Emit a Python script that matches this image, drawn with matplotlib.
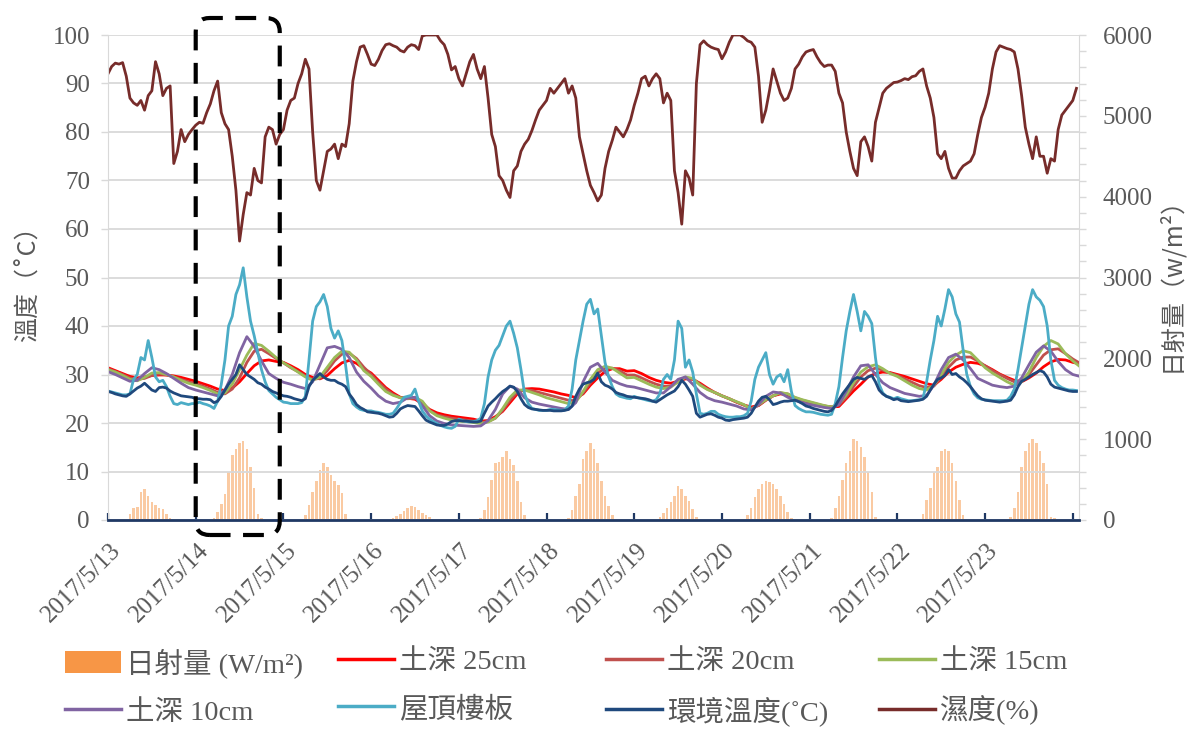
import numpy as np
import matplotlib
matplotlib.use('Agg')
import matplotlib.pyplot as plt
from matplotlib.patches import Patch, FancyBboxPatch
from matplotlib.lines import Line2D
from matplotlib.ticker import MultipleLocator
from matplotlib.transforms import IdentityTransform, ScaledTranslation

# x axis: one tick per day, data starts 2017/5/13 00:00
day_labels = ['2017/5/13', '2017/5/14', '2017/5/15', '2017/5/16', '2017/5/17', '2017/5/18',
              '2017/5/19', '2017/5/20', '2017/5/21', '2017/5/22', '2017/5/23']

# hourly series (one row per day)
roof = [
    26.6, 26.4, 26.2, 26.0, 25.8, 25.8, 26.0, 29.0, 30.0, 33.5, 33.0, 37.0, 33.5, 29.5, 28.5, 28.8, 27.5, 25.5, 24.0, 23.8, 24.2, 24.0, 23.8, 24.0,
    24.0, 24.3, 24.0, 23.8, 23.5, 23.0, 24.5, 28.0, 33.0, 40.0, 42.0, 46.5, 48.5, 52.0, 46.0, 41.0, 38.0, 34.5, 31.0, 28.5, 26.7, 26.0, 25.3, 24.8,
    24.3, 24.2, 24.0, 24.0, 24.0, 24.2, 25.5, 33.0, 41.0, 44.0, 45.0, 46.5, 44.0, 39.5, 37.5, 39.0, 37.0, 32.0, 26.0, 24.0, 23.3, 22.8, 22.6, 22.5,
    22.5, 22.3, 22.2, 22.0, 21.8, 21.8, 22.0, 23.0, 24.2, 25.3, 25.5, 25.7, 27.0, 24.5, 22.5, 21.5, 20.8, 20.3, 19.9, 19.5, 19.2, 19.0, 18.9, 19.3,
    20.8, 20.5, 20.3, 20.2, 20.3, 20.5, 21.0, 24.0, 29.5, 33.0, 35.0, 36.0, 38.0, 40.0, 41.0, 38.5, 35.5, 31.0, 26.0, 24.0, 23.0, 22.8, 22.6, 22.6,
    22.6, 22.8, 22.8, 22.7, 22.6, 22.7, 23.5, 27.0, 33.0, 37.0, 41.0, 44.5, 45.5, 42.5, 43.5, 38.0, 32.5, 29.5, 27.5, 26.0, 25.5, 25.3, 25.1, 25.0,
    25.5, 25.2, 25.0, 24.8, 24.6, 24.5, 24.8, 26.0, 29.0, 30.0, 29.0, 33.0, 41.0, 39.5, 31.5, 33.0, 30.5, 26.0, 22.0, 21.8, 22.0, 22.4, 22.4, 21.8,
    21.5, 21.3, 21.2, 21.2, 21.3, 21.3, 21.5, 22.0, 24.5, 29.0, 31.5, 33.0, 34.5, 30.0, 28.0, 29.5, 30.0, 28.5, 31.0, 26.5, 23.6, 23.0, 22.6, 22.3,
    22.3, 22.2, 22.0, 21.8, 21.7, 21.6, 21.8, 24.0, 27.5, 33.5, 39.0, 43.0, 46.5, 43.0, 39.0, 43.0, 42.0, 40.5, 33.5, 28.0, 26.2, 25.5, 25.3, 25.0,
    25.3, 25.0, 24.8, 24.6, 24.6, 24.7, 24.8, 25.0, 28.5, 33.0, 37.0, 42.0, 40.0, 43.5, 47.5, 46.0, 42.5, 40.8, 35.0, 30.0, 27.5, 26.0, 25.2, 24.9,
    24.8, 24.7, 24.6, 24.6, 24.6, 24.6, 24.7, 25.5, 27.0, 31.0, 35.5, 40.0, 44.5, 47.5, 46.0, 45.3, 44.0, 40.0, 33.0, 28.8, 27.8, 27.3, 27.0, 26.8,
    26.8, 26.7,
]

ambient = [
    26.5, 26.3, 26.0, 25.8, 25.6, 25.5, 26.0, 26.6, 27.2, 27.6, 28.2, 27.5, 26.8, 26.5, 27.3, 27.4, 27.2, 26.6, 26.2, 25.9, 25.6, 25.5, 25.4, 25.3,
    25.0, 25.0, 24.9, 24.9, 24.8, 24.2, 24.5, 25.5, 26.8, 28.0, 29.0, 30.0, 32.0, 31.0, 30.0, 29.5, 29.0, 28.3, 28.0, 27.4, 27.0, 26.5, 26.2, 25.9,
    25.6, 25.5, 25.3, 25.0, 24.8, 24.6, 25.0, 27.5, 28.8, 29.5, 30.2, 29.5, 29.0, 28.8, 28.8, 28.3, 28.0, 27.5, 26.0, 25.0, 23.8, 23.2, 22.8, 22.3,
    22.2, 22.1, 22.0, 21.8, 21.5, 21.2, 21.3, 22.0, 22.9, 23.3, 23.6, 23.5, 23.4, 22.5, 21.5, 20.6, 20.2, 19.9, 19.6, 19.5, 19.5, 19.8, 20.3, 20.5,
    20.5, 20.4, 20.4, 20.3, 20.2, 20.2, 20.4, 22.0, 23.5, 24.3, 25.0, 25.8, 26.5, 27.0, 27.6, 27.4, 26.5, 25.0, 23.8, 23.2, 22.9, 22.8, 22.7, 22.6,
    22.6, 22.6, 22.5, 22.5, 22.5, 22.6, 22.8, 23.5, 25.5, 27.0, 28.0, 28.3, 28.5, 29.0, 30.3, 28.5, 27.8, 27.5, 27.0, 26.3, 26.0, 25.8, 25.5, 25.4,
    25.3, 25.2, 25.1, 25.0, 24.8, 24.5, 24.3, 24.8, 25.3, 25.8, 26.2, 26.6, 27.5, 28.8, 28.0, 26.8, 25.5, 22.0, 21.2, 21.5, 21.8, 21.9, 21.6, 21.2,
    21.0, 20.6, 20.5, 20.7, 20.8, 20.9, 21.0, 21.2, 22.0, 23.3, 24.5, 25.3, 25.5, 24.8, 23.8, 24.0, 24.3, 24.5, 24.5, 24.6, 24.7, 24.4, 24.0, 23.5,
    23.3, 23.0, 22.8, 22.6, 22.4, 22.3, 22.6, 23.5, 24.8, 26.0, 27.0, 28.0, 29.0, 29.4, 29.2, 29.0, 29.5, 29.8, 28.5, 26.8, 26.0, 25.5, 25.2, 24.8,
    25.0, 24.6, 24.5, 24.4, 24.5, 24.6, 24.7, 24.9, 25.5, 26.8, 28.0, 29.0, 29.3, 29.8, 31.0, 30.0, 30.2, 29.5, 29.0, 28.3, 27.5, 26.5, 25.6, 25.0,
    24.7, 24.6, 24.5, 24.4, 24.3, 24.4, 24.5, 24.7, 25.8, 27.5, 28.6, 29.0, 29.5, 30.0, 30.4, 30.8, 30.5, 29.5, 28.0, 27.4, 27.2, 27.0, 26.8, 26.6,
    26.5, 26.5,
]

humidity = [
    92.0, 93.5, 94.2, 94.0, 94.3, 91.5, 87.0, 86.0, 85.5, 86.5, 84.5, 87.5, 88.5, 94.5, 92.0, 87.5, 89.0, 89.5, 73.5, 76.0, 80.5, 78.0, 79.5, 80.5,
    81.4, 82.0, 81.8, 84.0, 85.8, 88.5, 90.5, 84.0, 81.7, 80.5, 75.0, 68.0, 57.5, 63.0, 67.5, 67.0, 72.5, 70.0, 69.5, 79.0, 81.0, 80.5, 77.5, 79.5,
    80.5, 84.5, 86.5, 87.0, 90.0, 92.0, 95.0, 93.0, 80.0, 70.0, 68.0, 72.0, 76.0, 76.5, 77.5, 74.5, 77.5, 77.0, 81.7, 90.5, 94.5, 97.5, 97.8, 96.0,
    94.0, 93.7, 95.0, 96.8, 98.0, 98.2, 97.8, 97.5, 96.8, 96.5, 97.5, 98.0, 97.8, 97.0, 99.8, 100.0, 100.0, 100.0, 100.0, 98.8, 98.0, 96.0, 92.8, 93.5,
    91.0, 89.5, 92.0, 94.5, 96.0, 93.0, 91.0, 93.5, 87.0, 79.5, 77.0, 71.0, 70.0, 68.0, 66.5, 72.0, 73.0, 76.0, 77.5, 78.5, 80.3, 82.5, 84.5, 85.5,
    86.5, 89.0, 88.0, 89.0, 90.0, 91.0, 88.0, 89.5, 87.0, 79.0, 75.5, 72.0, 69.0, 67.5, 65.8, 67.0, 72.5, 76.0, 78.3, 81.0, 80.0, 79.0, 80.5, 82.5,
    85.5, 88.0, 91.0, 91.5, 89.5, 91.0, 92.0, 91.0, 86.0, 88.0, 86.5, 72.0, 67.5, 61.0, 72.0, 70.5, 67.0, 90.0, 98.0, 98.8, 98.0, 97.5, 97.2, 97.0,
    95.1, 96.5, 98.5, 100.0, 100.0, 100.0, 99.5, 98.8, 98.5, 97.5, 91.5, 82.0, 84.5, 88.5, 93.0, 90.5, 88.0, 86.5, 87.0, 89.0, 93.0, 94.0, 95.5, 96.5,
    96.8, 97.0, 95.5, 94.3, 93.5, 93.8, 93.8, 92.5, 88.0, 86.0, 80.0, 76.0, 72.5, 71.0, 78.0, 79.0, 77.0, 74.0, 82.0, 85.0, 88.0, 89.0, 89.6, 90.2,
    90.3, 90.6, 91.0, 90.8, 91.4, 91.6, 92.5, 93.0, 89.5, 87.0, 83.0, 75.5, 74.5, 76.0, 72.5, 70.5, 70.5, 72.0, 73.0, 73.5, 74.0, 75.5, 79.5, 83.0,
    85.1, 88.0, 93.0, 96.5, 97.8, 97.5, 97.2, 97.0, 96.5, 93.0, 87.5, 81.0, 77.5, 74.5, 79.0, 75.0, 75.0, 71.5, 74.5, 74.0, 80.5, 83.5, 84.5, 85.5,
    86.5, 89.0,
]

# solar radiation, W/m2, hourly
solar = [
    0, 0, 0, 0, 0, 0, 80, 150, 160, 350, 380, 300, 220, 180, 150, 140, 80, 20, 0, 0, 0, 0, 0, 0,
    0, 0, 0, 0, 0, 20, 100, 200, 320, 600, 800, 880, 950, 980, 880, 650, 400, 80, 20, 0, 0, 0, 0, 0,
    0, 0, 0, 0, 0, 0, 60, 180, 350, 480, 620, 700, 650, 560, 480, 430, 330, 80, 10, 0, 0, 0, 0, 0,
    0, 0, 0, 0, 0, 0, 20, 50, 80, 110, 150, 170, 160, 120, 90, 60, 40, 15, 0, 0, 0, 0, 0, 0,
    0, 0, 0, 0, 0, 0, 30, 120, 280, 500, 700, 720, 780, 850, 750, 680, 480, 220, 60, 0, 0, 0, 0, 0,
    0, 0, 0, 0, 0, 0, 30, 120, 300, 450, 750, 850, 950, 880, 700, 480, 300, 170, 60, 10, 0, 0, 0, 0,
    0, 0, 0, 0, 0, 0, 10, 40, 90, 150, 220, 300, 420, 380, 300, 240, 130, 40, 0, 0, 0, 0, 0, 0,
    0, 0, 0, 0, 0, 0, 0, 60, 150, 280, 380, 450, 480, 470, 450, 380, 300, 200, 100, 20, 0, 0, 0, 0,
    0, 0, 0, 0, 0, 0, 20, 150, 300, 500, 700, 850, 1000, 980, 900, 780, 600, 350, 40, 15, 0, 0, 0, 0,
    0, 0, 0, 0, 0, 0, 0, 80, 250, 400, 600, 650, 850, 880, 850, 700, 480, 250, 60, 10, 0, 0, 0, 0,
    0, 0, 0, 0, 0, 0, 0, 40, 150, 350, 650, 850, 950, 1000, 950, 850, 700, 450, 40, 20, 0, 0, 0, 0,
]

# soil temperatures, every 2 hours (one row per day)
soil25 = [
    31.4, 30.8, 30.2, 29.6, 29.3, 29.5, 29.8, 29.9, 29.9, 29.7, 29.4, 29.0,
    28.6, 28.1, 27.6, 27.0, 26.7, 27.2, 28.5, 30.2, 31.8, 32.8, 33.0, 32.7,
    32.5, 31.8, 31.0, 30.0, 29.4, 29.1, 29.8, 31.2, 32.4, 32.9, 32.3, 31.2,
    30.3, 28.8, 27.3, 26.2, 25.3, 25.1, 24.9, 24.0, 22.8, 22.1, 21.7, 21.4,
    21.2, 21.0, 20.8, 20.4, 20.5, 21.3, 22.4, 24.2, 26.0, 27.0, 27.1, 27.0,
    26.7, 26.4, 26.0, 25.7, 25.2, 26.0, 27.8, 29.3, 30.6, 31.2, 31.2, 30.7,
    30.8, 30.2, 29.4, 28.8, 28.4, 28.2, 28.6, 29.1, 29.0, 28.2, 27.2, 26.3,
    25.6, 25.0, 24.3, 23.7, 23.3, 23.6, 24.7, 25.6, 26.0, 25.8, 25.0, 24.5,
    24.2, 23.8, 23.5, 23.3, 23.4, 25.0, 26.6, 28.0, 29.5, 30.2, 30.5, 30.4,
    30.0, 29.6, 29.1, 28.6, 28.1, 27.8, 29.0, 30.5, 31.5, 32.1, 32.5, 32.3,
    31.8, 31.0, 30.1, 29.4, 28.8, 28.5, 29.3, 30.3, 31.6, 32.6, 33.1, 33.0,
    32.5, 32.2,
]

soil20 = [
    31.2, 30.6, 30.0, 29.3, 29.0, 29.2, 29.8, 30.1, 29.9, 29.5, 29.0, 28.5,
    28.1, 27.6, 27.0, 26.3, 26.0, 27.0, 29.3, 32.5, 34.8, 35.2, 34.3, 33.3,
    32.4, 31.4, 30.6, 29.7, 29.0, 29.2, 30.8, 32.8, 34.2, 34.4, 33.3, 31.5,
    30.0, 28.4, 27.0, 25.9, 25.2, 25.0, 25.1, 24.3, 22.6, 21.7, 21.3, 21.0,
    20.8, 20.6, 20.4, 20.1, 20.3, 21.0, 22.6, 24.7, 26.4, 26.9, 26.7, 26.3,
    25.9, 25.5, 25.1, 24.7, 24.6, 26.2, 28.3, 30.3, 31.3, 31.3, 30.8, 29.9,
    29.9, 29.3, 28.6, 28.0, 27.6, 27.6, 28.5, 29.3, 29.1, 28.0, 27.0, 26.3,
    25.6, 25.0, 24.3, 23.7, 23.0, 23.6, 24.7, 25.6, 26.2, 26.0, 25.2, 24.7,
    24.3, 23.9, 23.5, 23.3, 23.7, 25.3, 27.5, 29.5, 30.8, 31.3, 30.9, 30.3,
    29.8, 29.1, 28.4, 27.7, 27.3, 27.6, 29.5, 31.5, 33.0, 33.6, 33.6, 32.8,
    31.8, 30.8, 30.0, 29.2, 28.5, 28.7, 30.0, 32.0, 34.0, 35.1, 35.3, 34.3,
    33.2, 32.3,
]

soil15 = [
    31.0, 30.5, 29.8, 29.0, 28.7, 29.4, 30.3, 30.4, 30.0, 29.5, 28.8, 28.2,
    27.8, 27.3, 26.7, 26.0, 26.2, 28.0, 31.0, 34.0, 36.4, 36.0, 34.8, 33.5,
    32.4, 31.5, 30.5, 29.5, 28.8, 29.5, 31.5, 33.5, 34.8, 34.6, 33.0, 30.8,
    29.6, 28.0, 26.5, 25.7, 25.2, 25.1, 25.3, 24.5, 22.5, 21.5, 21.0, 20.6,
    20.4, 20.3, 20.1, 19.9, 20.2, 21.0, 23.0, 25.3, 26.8, 26.8, 26.3, 25.8,
    25.2, 24.8, 24.4, 24.0, 24.3, 26.5, 29.0, 31.0, 31.7, 31.3, 30.3, 29.3,
    29.4, 28.7, 28.0, 27.4, 27.1, 27.4, 28.5, 29.5, 29.2, 27.8, 26.9, 26.3,
    25.6, 25.0, 24.4, 23.8, 22.8, 23.8, 24.8, 25.6, 26.3, 26.0, 25.3, 24.8,
    24.4, 24.0, 23.6, 23.3, 24.0, 25.8, 28.3, 30.5, 31.6, 32.0, 31.2, 30.2,
    29.6, 28.7, 27.8, 27.1, 26.8, 27.8, 30.0, 32.5, 34.0, 34.9, 34.5, 33.0,
    31.4, 30.3, 29.4, 28.5, 27.8, 28.5, 30.5, 33.5, 35.8, 37.0, 36.3, 34.3,
    32.8, 31.6,
]

soil10 = [
    30.6, 30.0, 29.3, 28.6, 28.8, 30.2, 31.4, 31.0, 30.2, 29.2, 28.2, 27.3,
    26.8, 26.4, 26.0, 25.6, 26.8, 30.0, 34.5, 37.8, 35.8, 32.8, 30.2, 29.2,
    28.4, 28.0, 27.5, 27.1, 28.5, 32.0, 35.5, 35.8, 35.2, 33.5, 30.5, 28.6,
    27.2, 25.6, 24.5, 24.0, 24.3, 25.2, 25.3, 23.6, 21.5, 20.4, 19.9, 19.6,
    19.5, 19.4, 19.3, 19.4, 20.5, 22.8, 26.0, 27.6, 27.0, 25.2, 24.3, 23.9,
    23.6, 23.3, 23.0, 22.8, 24.2, 28.5, 31.5, 32.3, 30.5, 28.8, 28.1, 27.6,
    27.4, 27.0, 26.6, 26.2, 26.2, 27.5, 29.0, 29.5, 28.0, 26.3, 25.2, 24.6,
    24.3, 23.9, 23.5, 22.9, 22.7, 23.8, 25.5, 26.4, 26.2, 25.3, 24.7, 24.2,
    23.8, 23.5, 23.2, 23.0, 23.8, 26.5, 29.5, 31.8, 32.0, 30.0, 28.3, 27.3,
    26.7, 26.1, 25.8, 25.5, 25.7, 27.8, 31.0, 33.5, 34.2, 33.0, 31.2, 29.2,
    28.5, 27.8, 27.5, 27.3, 27.6, 29.3, 32.0, 34.6, 35.9, 34.8, 32.7, 31.0,
    30.0, 29.6,
]

C_SOLAR = '#F79646'
C25, C20, C15, C10 = '#FF0000', '#C0504D', '#9BBB59', '#8064A2'
C_ROOF, C_AMB, C_HUM = '#4BACC6', '#1F497D', '#772C2A'
GRAY = '#595959'
SERIF = ['Liberation Serif', 'Noto Sans CJK TC']
CJK = ['Noto Sans CJK TC', 'DejaVu Sans']

W, H = 1187, 731
fig = plt.figure(figsize=(W / 100, H / 100), dpi=100)
ax = fig.add_axes([108 / W, 211 / H, 971 / W, 485 / H])
ax2 = ax.twinx()
ax.set_zorder(ax2.get_zorder() + 1)
ax.patch.set_visible(False)

t1 = np.arange(len(roof))
t2 = np.arange(len(soil25)) * 2
ts = np.arange(len(solar))

ax2.bar(ts, solar, width=0.7, color=C_SOLAR, alpha=0.5, linewidth=0)

lw = 2.0
ax.plot(t2, soil25, color=C25, lw=lw)
ax.plot(t2, soil20, color=C20, lw=lw)
ax.plot(t2, soil15, color=C15, lw=lw)
ax.plot(t2, soil10, color=C10, lw=lw)
ax.plot(t1, roof, color=C_ROOF, lw=lw)
ax.plot(t1, ambient, color=C_AMB, lw=lw)
ax.plot(t1, humidity, color=C_HUM, lw=lw)

ax.set_xlim(0, 265.7)
ax.set_ylim(0, 100)
ax2.set_ylim(0, 6000)

# left axis
ax.set_yticks(np.arange(0, 101, 10))
ax.yaxis.grid(True, color='#D9D9D9', lw=1.3)
ax.set_axisbelow(True)
ax.tick_params(axis='y', direction='out', length=5, width=1, color='#D9D9D9',
               labelsize=18, labelcolor=GRAY, pad=8)
for lab in ax.get_yticklabels():
    lab.set_family(SERIF)

# right axis
ax2.yaxis.set_major_locator(MultipleLocator(1000))
ax2.yaxis.set_minor_locator(MultipleLocator(200))
ax2.tick_params(axis='y', which='both', direction='out', length=5, width=1, color='#D9D9D9',
                labelsize=18, labelcolor=GRAY, pad=12)
for lab in ax2.get_yticklabels():
    lab.set_family(SERIF)

# x axis
ax.set_xticks(np.arange(12) * 24)
ax.set_xticklabels(day_labels + [''])
ax.tick_params(axis='x', direction='in', length=5, width=1.6, color='#1F3864',
               labelsize=18, labelcolor=GRAY, pad=14)
shift = ScaledTranslation(0.02, 0, fig.dpi_scale_trans)
for lab in ax.get_xticklabels():
    lab.set_family(SERIF)
    lab.set_rotation(45)
    lab.set_ha('right')
    lab.set_va('top')
    lab.set_rotation_mode('anchor')
    lab.set_transform(lab.get_transform() + shift)

for s in ['top', 'right']:
    ax.spines[s].set_visible(False)
ax.spines['left'].set_color('#D9D9D9')
ax.spines['bottom'].set_color('#1F3864')
ax.spines['bottom'].set_linewidth(2)
for s in ['top', 'left', 'bottom']:
    ax2.spines[s].set_visible(False)
ax2.spines['right'].set_color('#D9D9D9')

ax.set_ylabel('溫度（˚C）', fontsize=18, color=GRAY, family=CJK)
ax.yaxis.set_label_coords(-0.068, 0.5)
ax2.set_ylabel('日射量（w/m²）', fontsize=18, color=GRAY, family=CJK)
ax2.yaxis.set_label_coords(1.081, 0.5)

# legend, four columns of two rows
entries = [
    (Patch(facecolor=C_SOLAR), '日射量 (W/m²)'),
    (Line2D([], [], color=C25, lw=2.5), '土深 25cm'),
    (Line2D([], [], color=C20, lw=2.5), '土深 20cm'),
    (Line2D([], [], color=C15, lw=2.5), '土深 15cm'),
    (Line2D([], [], color=C10, lw=2.5), '土深 10cm'),
    (Line2D([], [], color=C_ROOF, lw=2.5), '屋頂樓板'),
    (Line2D([], [], color=C_AMB, lw=2.5), '環境溫度(˚C)'),
    (Line2D([], [], color=C_HUM, lw=2.5), '濕度(%)'),
]
col_x = [65, 338, 606, 879]
for i, x in enumerate(col_x):
    pair = [entries[i], entries[i + 4]]
    fig.legend([p[0] for p in pair], [p[1] for p in pair], loc='upper left',
               bbox_to_anchor=(x / W, 1 - 648 / H), frameon=False,
               prop={'family': SERIF, 'size': 20.5}, labelcolor=GRAY,
               handlelength=1.95, handleheight=0.85, handletextpad=0.2,
               labelspacing=0.72, borderpad=0, borderaxespad=0)

# dashed highlight around 2017/5/14
x0 = ax.transData.transform((24, 0))[0]
x1 = ax.transData.transform((47, 0))[0]
y0 = ax.transAxes.transform((0, 0))[1] - 15
y1 = ax.transAxes.transform((0, 1))[1] + 17
box = FancyBboxPatch((x0, y0), x1 - x0, y1 - y0, boxstyle='round,pad=0,rounding_size=14',
                     fill=False, ec='black', lw=3, ls=(0, (5, 3)),
                     transform=IdentityTransform(), zorder=10)
fig.add_artist(box)

fig.savefig('out.png', dpi=100)
